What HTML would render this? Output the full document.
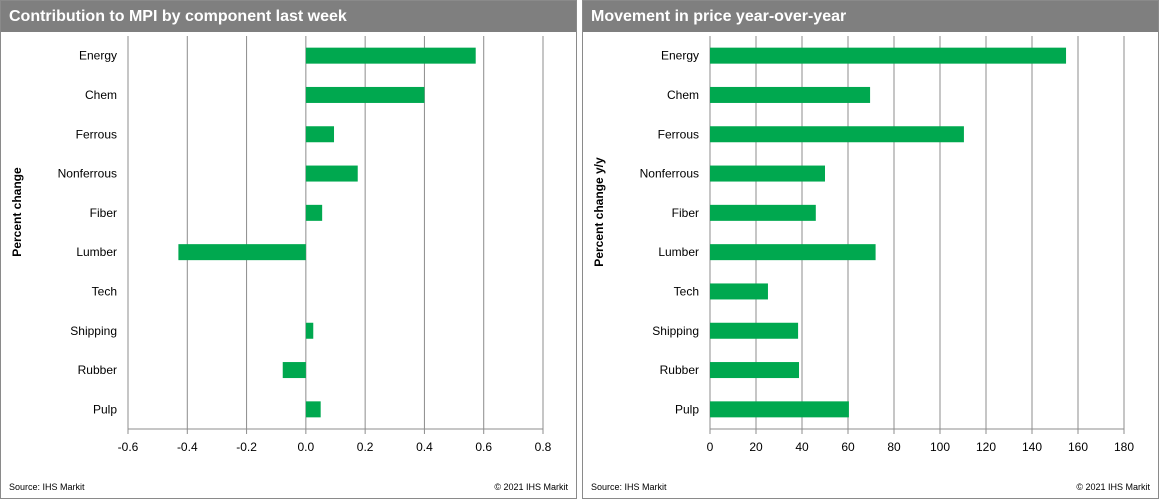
<!DOCTYPE html>
<html><head><meta charset="utf-8"><style>
body{margin:0;width:1161px;height:501px;background:#fff;font-family:"Liberation Sans",Arial,sans-serif;overflow:hidden}
.panel{position:absolute;top:0;height:499px;border:1px solid #8a8a8a;box-sizing:border-box;background:#fff}
.hdr{position:absolute;left:0;top:0;right:0;height:31px;background:#7f7f7f;color:#fff;font-weight:bold;font-size:16px;line-height:31px;padding-left:8px}
.src{position:absolute;bottom:6px;font-size:9px;color:#000}
svg{position:absolute;left:0;top:0}
</style></head><body>
<div class="panel" style="left:0;width:577px">
<div class="hdr">Contribution to MPI by component last week</div>
<div class="src" style="left:8px">Source: IHS Markit</div>
<div class="src" style="right:8px">© 2021 IHS Markit</div>
</div>
<div class="panel" style="left:582px;width:577px">
<div class="hdr">Movement in price year-over-year</div>
<div class="src" style="left:8px">Source: IHS Markit</div>
<div class="src" style="right:8px">© 2021 IHS Markit</div>
</div>
<svg id="svg" width="1161" height="501" xmlns="http://www.w3.org/2000/svg"></svg>
<script>
const categories=["Energy","Chem","Ferrous","Nonferrous","Fiber","Lumber","Tech","Shipping","Rubber","Pulp"];
const weekValues=[0.573,0.40,0.095,0.175,0.055,-0.43,0,0.025,-0.078,0.05];
const yoyValues=[154.8,69.6,110.4,50,46,72,25.2,38.3,38.7,60.4];
const leftTicks=[-0.6,-0.4,-0.2,0,0.2,0.4,0.6,0.8];
const leftTickLabels=["-0.6","-0.4","-0.2","0.0","0.2","0.4","0.6","0.8"];
const rightTicks=[0,20,40,60,80,100,120,140,160,180];
const rightTickLabels=["0","20","40","60","80","100","120","140","160","180"];
const svg=document.getElementById('svg');const NS="http://www.w3.org/2000/svg";
function mk(t,a,txt){const e=document.createElementNS(NS,t);for(const k in a)e.setAttribute(k,a[k]);if(txt!==undefined)e.textContent=txt;svg.appendChild(e);return e;}
function chart(p){
 const x=v=>p.x0+(v-p.min)/(p.max-p.min)*(p.x1-p.x0);
 const top=36,bot=429,band=(bot-top)/categories.length;
 const y=i=>top+band*(i+0.5);
 p.ticks.forEach((t,i)=>{
  const g=mk('line',{x1:x(t),x2:x(t),y1:top,y2:bot+5,stroke:'#8c8c8c','stroke-width':1});
  
  
  const l=mk('text',{x:x(t),y:bot+22,'text-anchor':'middle','font-size':12,fill:'#000'},p.labels[i]);
  
  
 });
 const ax=mk('line',{x1:x(p.min),x2:x(p.max),y1:bot,y2:bot,stroke:'#8c8c8c'});
 
 
 categories.forEach((c,i)=>{
  const v=p.vals[i];const a=x(0),b=x(v);
  const r=mk('rect',{x:Math.min(a,b),y:y(i)-8,width:Math.abs(b-a),height:16,fill:'#00a84f'});
  
  
  const t=mk('text',{x:p.labX,y:y(i)+4,'text-anchor':'end','font-size':12,fill:'#000'},c);
  
  
 });
 const yt=mk('text',{transform:`translate(${p.ytX},212) rotate(-90)`,'text-anchor':'middle','font-size':12,'font-weight':'bold',fill:'#000'},p.ytitle);
 
 
}
chart({id:'left',x0:128,x1:543,min:-0.6,max:0.8,ticks:leftTicks,labels:leftTickLabels,vals:weekValues,labX:117,ytX:21,ytitle:'Percent change'});
chart({id:'right',x0:710,x1:1124,min:0,max:180,ticks:rightTicks,labels:rightTickLabels,vals:yoyValues,labX:699,ytX:603,ytitle:'Percent change y/y'});
</script>
</body></html>
